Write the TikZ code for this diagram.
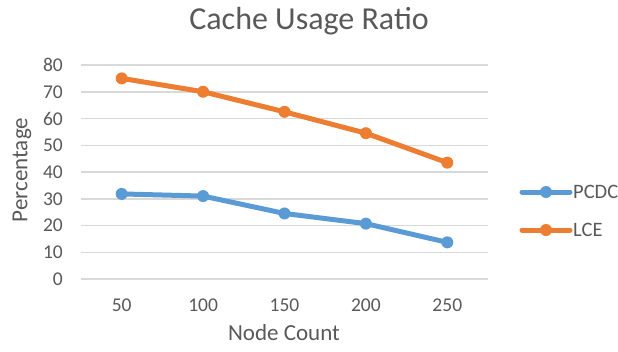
\documentclass[tikz,border=0pt]{standalone}
\usepackage{fontspec}
\setmainfont{Carlito}
\definecolor{pcdcblue}{HTML}{5B9BD5}
\definecolor{lceorange}{HTML}{ED7D31}
\definecolor{gridgray}{HTML}{D9D9D9}
\definecolor{textgray}{HTML}{595959}
\tikzset{
  gridline/.style={draw=gridgray, line width=1.5pt},
  pcdcline/.style={draw=pcdcblue, line width=5pt, line join=round},
  lceline/.style={draw=lceorange, line width=5pt, line join=round},
  ticklabel/.style={text=textgray, font=\fontsize{19.5}{21}\selectfont, inner sep=0pt},
  axistitle/.style={text=textgray, font=\fontsize{23}{25}\selectfont, inner sep=0pt},
}

\begin{document}
\begin{tikzpicture}[x=1pt,y=-1pt]
    \useasboundingbox (0,0) rectangle (618,351);

    \node[text=textgray, font=\fontsize{32}{34}\selectfont, inner sep=0pt]
    (title) at (309,21) {Cache Usage Ratio};

    % plot area: categories 50..250, values 0..80
    \begin{scope}[shift={(81,279)}, x=81.4pt, y=2.675pt]
      \foreach \v in {0,10,...,80}
        \draw[gridline] (0,\v) -- (5,\v);

      \coordinate (pcdc1) at (0.5,31.8);
      \coordinate (pcdc2) at (1.5,31.0);
      \coordinate (pcdc3) at (2.5,24.5);
      \coordinate (pcdc4) at (3.5,20.7);
      \coordinate (pcdc5) at (4.5,13.7);

      \coordinate (lce1) at (0.5,75.0);
      \coordinate (lce2) at (1.5,70.0);
      \coordinate (lce3) at (2.5,62.5);
      \coordinate (lce4) at (3.5,54.5);
      \coordinate (lce5) at (4.5,43.5);

      \draw[pcdcline] (pcdc1) -- (pcdc2) -- (pcdc3) -- (pcdc4) -- (pcdc5);
      \draw[lceline] (lce1) -- (lce2) -- (lce3) -- (lce4) -- (lce5);
      \foreach \i in {1,...,5} {
        \fill[pcdcblue] (pcdc\i) circle (6pt);
        \fill[lceorange] (lce\i) circle (6pt);
      }
    \end{scope}

    \foreach \v [count=\k from 0] in {0,10,...,80}
      \node[ticklabel, anchor=east] (y\v) at (63,279-26.75*\k) {\v};
    \foreach \c [count=\k from 0] in {50,100,...,250}
      \node[ticklabel] (x\c) at (121.7+81.4*\k,305) {\c};

    \node[axistitle] (xtitle) at (284,333) {Node Count};
    \node[axistitle, rotate=90] (ytitle) at (22,170) {Percentage};

    % legend
    \coordinate (pcdcl) at (522,192); \coordinate (pcdcr) at (570,192);
    \draw[pcdcline, line cap=round] (pcdcl) -- (pcdcr);
    \fill[pcdcblue] (546,192) circle (6pt);
    \node[ticklabel, anchor=west, font=\fontsize{20.5}{22}\selectfont]
    (pcdckey) at (573,192) {PCDC};

    \coordinate (lcel) at (522,230); \coordinate (lcer) at (570,230);
    \draw[lceline, line cap=round] (lcel) -- (lcer);
    \fill[lceorange] (546,230) circle (6pt);
    \node[ticklabel, anchor=west, font=\fontsize{20.5}{22}\selectfont]
    (lcekey) at (573,230) {LCE};
  \end{tikzpicture}
\end{document}
